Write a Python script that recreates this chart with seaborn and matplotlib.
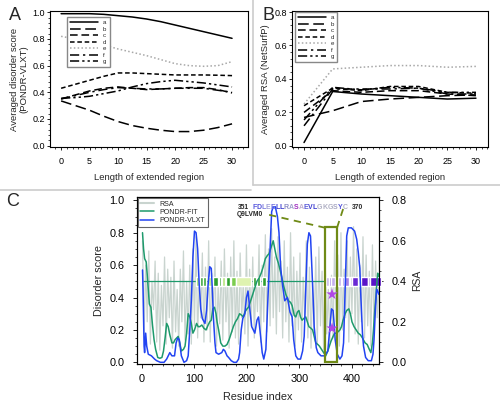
import matplotlib
matplotlib.use("Agg")
import matplotlib.pyplot as plt
import numpy as np
import pandas as pd
import seaborn as sns
from matplotlib.ticker import MultipleLocator, FormatStrFormatter
from matplotlib.lines import Line2D
from matplotlib.patches import Rectangle
from matplotlib.offsetbox import TextArea, HPacker, AnnotationBbox

# ---------------- data ----------------
series_names = ["a", "b", "c", "d", "e", "f", "g"]

# Panel A: averaged disorder score (PONDR-VLXT) vs length of extended region
ext_len_a = [0, 2.5, 5, 7.5, 10, 12.5, 15, 17.5, 20, 22.5, 25, 27.5, 30]
vlxt_a = [0.99, 0.99, 0.99, 0.985, 0.975, 0.965, 0.95, 0.93, 0.905, 0.88, 0.855, 0.83, 0.805]
vlxt_b = [0.335, 0.30, 0.265, 0.22, 0.18, 0.15, 0.13, 0.115, 0.105, 0.105, 0.115, 0.135, 0.163]
vlxt_c = [0.35, 0.38, 0.41, 0.43, 0.44, 0.43, 0.42, 0.425, 0.43, 0.435, 0.435, 0.42, 0.395]
vlxt_d = [0.43, 0.46, 0.49, 0.52, 0.545, 0.545, 0.54, 0.535, 0.53, 0.53, 0.53, 0.528, 0.525]
vlxt_e = [0.82, 0.80, 0.78, 0.755, 0.725, 0.70, 0.675, 0.645, 0.615, 0.60, 0.595, 0.60, 0.63]
vlxt_f = [0.35, 0.375, 0.40, 0.42, 0.435, 0.43, 0.425, 0.425, 0.43, 0.43, 0.43, 0.415, 0.40]
vlxt_g = [0.355, 0.36, 0.37, 0.39, 0.41, 0.44, 0.465, 0.48, 0.49, 0.48, 0.47, 0.455, 0.44]

# Panel B: averaged RSA (NetSurfP) vs length of extended region
ext_len_b = [0, 5, 10, 15, 20, 25, 30]
rsa_a = [0.02, 0.325, 0.31, 0.30, 0.29, 0.28, 0.285]
rsa_b = [0.17, 0.21, 0.265, 0.28, 0.29, 0.30, 0.305]
rsa_c = [0.20, 0.33, 0.32, 0.33, 0.33, 0.31, 0.30]
rsa_d = [0.24, 0.345, 0.33, 0.355, 0.355, 0.32, 0.315]
rsa_e = [0.25, 0.46, 0.47, 0.48, 0.48, 0.47, 0.475]
rsa_f = [0.12, 0.34, 0.34, 0.34, 0.345, 0.31, 0.31]
rsa_g = [0.155, 0.35, 0.335, 0.35, 0.345, 0.32, 0.32]

# Panel C: per-residue profiles of Q9LVM0
vlxt_res = [1, 2, 4, 5, 7, 9, 12, 18, 24, 28, 35, 42, 47, 50, 53, 57, 62, 65, 68, 71,
            75, 80, 85, 88, 91, 94, 97, 100, 103, 106, 109, 112, 115, 120, 123, 126, 129, 132, 134, 136,
            139, 141, 146, 152, 155, 158, 162, 165, 170, 175, 180, 184, 186, 189, 192, 196, 199, 202, 205, 209,
            215, 219, 222, 226, 229, 232, 236, 240, 244, 247, 250, 254, 258, 261, 264, 268, 272, 277, 282, 286,
            289, 293, 297, 302, 306, 309, 312, 315, 318, 321, 323, 326, 328, 332, 335, 341, 348, 354, 358, 361,
            364, 366, 368, 372, 377, 381, 384, 387, 390, 393, 399, 405, 409, 412, 415, 417, 420, 422, 426, 431,
            437, 440, 442, 445, 447, 449, 451]
vlxt_score = [0.57, 0.45, 0.10, 0.06, 0.18, 0.10, 0.05, 0.04, 0.02, 0.01, 0.0, 0.0, 0.02, 0.04, 0.06, 0.04, 0.04, 0.12, 0.15, 0.14,
              0.04, 0.0, 0.01, 0.04, 0.20, 0.38, 0.65, 0.81, 0.80, 0.70, 0.48, 0.33, 0.27, 0.24, 0.32, 0.48, 0.59, 0.58, 0.45, 0.28,
              0.12, 0.06, 0.05, 0.06, 0.08, 0.07, 0.04, 0.03, 0.01, 0.0, 0.0, 0.02, 0.06, 0.20, 0.27, 0.30, 0.40, 0.44, 0.34, 0.22,
              0.18, 0.26, 0.28, 0.16, 0.06, 0.02, 0.08, 0.40, 0.70, 0.93, 0.96, 0.96, 0.90, 0.80, 0.59, 0.47, 0.38, 0.40, 0.31, 0.28,
              0.14, 0.04, 0.02, 0.02, 0.07, 0.16, 0.45, 0.73, 0.80, 0.78, 0.63, 0.40, 0.22, 0.09, 0.06, 0.04, 0.04, 0.07, 0.22, 0.33,
              0.32, 0.24, 0.14, 0.05, 0.02, 0.04, 0.12, 0.45, 0.78, 0.83, 0.83, 0.81, 0.76, 0.68, 0.58, 0.40, 0.18, 0.10, 0.03, 0.01,
              0.01, 0.05, 0.14, 0.35, 0.45, 0.44, 0.42]

fit_res = [1, 3, 5, 8, 10, 12, 14, 17, 20, 23, 26, 30, 34, 38, 41, 44, 47, 50, 53, 57,
           60, 63, 66, 69, 72, 75, 79, 82, 85, 88, 91, 94, 97, 100, 104, 107, 110, 114, 118, 122,
           126, 129, 132, 135, 138, 141, 143, 146, 150, 154, 158, 162, 166, 170, 174, 178, 182, 186, 190, 193,
           196, 200, 203, 206, 209, 212, 215, 219, 223, 227, 231, 235, 239, 242, 246, 250, 253, 256, 260, 263,
           266, 270, 274, 279, 283, 286, 290, 293, 296, 299, 302, 305, 308, 312, 315, 318, 322, 325, 328, 331,
           335, 338, 342, 346, 350, 354, 357, 360, 364, 367, 370, 374, 377, 380, 383, 387, 390, 394, 397, 400,
           404, 408, 412, 416, 420, 425, 429, 433, 436, 439, 441, 443, 445, 447, 449, 451]
fit_score = [0.80, 0.70, 0.64, 0.62, 0.54, 0.45, 0.36, 0.34, 0.23, 0.14, 0.08, 0.03, 0.025, 0.03, 0.07, 0.15, 0.24, 0.22, 0.17, 0.12,
             0.12, 0.14, 0.15, 0.16, 0.12, 0.07, 0.08, 0.10, 0.18, 0.30, 0.28, 0.24, 0.18, 0.20, 0.24, 0.22, 0.22, 0.23, 0.21, 0.20,
             0.23, 0.25, 0.26, 0.33, 0.34, 0.30, 0.25, 0.20, 0.12, 0.10, 0.10, 0.11, 0.14, 0.18, 0.22, 0.25, 0.27, 0.30, 0.29, 0.28,
             0.31, 0.33, 0.34, 0.37, 0.40, 0.43, 0.46, 0.50, 0.52, 0.55, 0.59, 0.64, 0.66, 0.67, 0.71, 0.75, 0.70, 0.65, 0.61, 0.57,
             0.53, 0.47, 0.42, 0.38, 0.37, 0.35, 0.29, 0.28, 0.31, 0.32, 0.28, 0.26, 0.27, 0.28, 0.25, 0.22, 0.21, 0.20, 0.16, 0.12,
             0.11, 0.10, 0.08, 0.06, 0.04, 0.07, 0.10, 0.13, 0.16, 0.18, 0.18, 0.19, 0.20, 0.22, 0.26, 0.30, 0.32, 0.33, 0.30, 0.25,
             0.22, 0.20, 0.18, 0.17, 0.15, 0.12, 0.11, 0.08, 0.06, 0.12, 0.20, 0.30, 0.38, 0.47, 0.55, 0.53]

rsa_res = list(range(1, 452, 3))
rsa_value = [0.60, 0.14, 0.48, 0.20, 0.55, 0.09, 0.40, 0.26, 0.50, 0.10,
             0.44, 0.06, 0.38, 0.18, 0.52, 0.09, 0.46, 0.22, 0.42, 0.07,
             0.50, 0.15, 0.36, 0.08, 0.46, 0.20, 0.55, 0.11, 0.40, 0.14,
             0.48, 0.09, 0.56, 0.18, 0.62, 0.12, 0.42, 0.22, 0.54, 0.10,
             0.47, 0.16, 0.60, 0.10, 0.44, 0.25, 0.52, 0.08, 0.38, 0.19,
             0.50, 0.11, 0.56, 0.20, 0.44, 0.07, 0.52, 0.15, 0.60, 0.12,
             0.45, 0.09, 0.54, 0.22, 0.40, 0.14, 0.58, 0.08, 0.46, 0.18,
             0.52, 0.12, 0.42, 0.25, 0.58, 0.10, 0.48, 0.20, 0.63, 0.15,
             0.56, 0.18, 0.66, 0.22, 0.52, 0.14, 0.62, 0.25, 0.50, 0.12,
             0.60, 0.20, 0.47, 0.10, 0.64, 0.18, 0.52, 0.08, 0.45, 0.16,
             0.54, 0.10, 0.42, 0.22, 0.60, 0.12, 0.47, 0.07, 0.40, 0.15,
             0.52, 0.09, 0.57, 0.18, 0.45, 0.06, 0.49, 0.14, 0.36, 0.10,
             0.43, 0.12, 0.60, 0.20, 0.53, 0.08, 0.64, 0.16, 0.46, 0.22,
             0.60, 0.10, 0.52, 0.24, 0.67, 0.14, 0.56, 0.09, 0.48, 0.20,
             0.62, 0.12, 0.53, 0.18, 0.45, 0.08, 0.58, 0.15, 0.50, 0.22,
             0.40]

# sequence colour bar along disorder = 0.5
band_start = [103, 110, 117, 125, 136, 146, 152, 160, 170, 179, 211, 219, 228,
              350, 357, 361, 369, 373, 381, 385, 396, 401, 413, 417, 431, 435]
band_end = [108, 116, 121, 134, 144, 151, 159, 168, 179, 208, 217, 225, 236,
            356, 360, 368, 372, 380, 384, 395, 400, 412, 416, 430, 434, 455]
band_color = ['#9fdc6a', '#2e9e2e', '#3aa83a', '#c6ec90', '#2e9e2e', '#2e9e2e', '#b5e47a',
              '#2e9e2e', '#7ccd4e', '#dff3b0', '#2e9e2e', '#2e9e2e', '#2e9e2e',
              '#c4b0ec', '#8a5ee0', '#c4b0ec', '#8a5ee0', '#c4b0ec', '#8a5ee0', '#a682e6',
              '#c4b0ec', '#6a28d4', '#b49ae8', '#5a14c8', '#9a78e0', '#5a14c8']

seq_letters = list("FDLEELLRASAEVLGKGSYC")
seq_colors = ['#5a5ae0', '#5050d8', '#8080e0', '#a0a0d8', '#7070e0', '#4040d0', '#4040d0',
              '#9090c8', '#a0a0cc', '#a030c0', '#c0b0d0', '#5a5ad8', '#4040d0', '#4040d0',
              '#b0b0c4', '#b0b0c4', '#b0b0c4', '#a8a8c4', '#5050d8', '#b0b0c4']
box_start, box_end, box_top = 351, 370, 0.83
star_res = [362, 362]
star_score = [0.42, 0.21]

# ---------------- style ----------------
sns.set_theme(style="ticks")
plt.rcParams['font.family'] = ['Liberation Sans', 'DejaVu Sans']
plt.rcParams['axes.linewidth'] = 0.8
plt.rcParams['axes.edgecolor'] = 'black'
plt.rcParams['xtick.color'] = 'black'
plt.rcParams['ytick.color'] = 'black'

line_styles = {"a": "-", "b": (0, (7, 3)), "c": (0, (5, 2.5)), "d": (0, (3, 1.8)),
               "e": (0, (1, 1.5)), "f": (0, (6, 2.5, 1.5, 2.5)), "g": (0, (6, 2, 1.5, 2, 1.5, 2))}
line_colors = {n: ('#a8a8a8' if n == 'e' else 'black') for n in series_names}

fig = plt.figure(figsize=(5, 4.08), dpi=100)
axA = fig.add_axes([0.100, 0.640, 0.396, 0.333])
axB = fig.add_axes([0.584, 0.640, 0.392, 0.333])
axC = fig.add_axes([0.274, 0.108, 0.484, 0.409])
axR = axC.twinx()

panelA = {"a": vlxt_a, "b": vlxt_b, "c": vlxt_c, "d": vlxt_d, "e": vlxt_e, "f": vlxt_f, "g": vlxt_g}
panelB = {"a": rsa_a, "b": rsa_b, "c": rsa_c, "d": rsa_d, "e": rsa_e, "f": rsa_f, "g": rsa_g}

for ax, xs, vals in [(axA, ext_len_a, panelA), (axB, ext_len_b, panelB)]:
    for n in series_names:
        sns.lineplot(x=xs, y=vals[n], ax=ax, color=line_colors[n], linestyle=line_styles[n],
                     lw=1.1, legend=False)
    handles = [Line2D([], [], color=line_colors[n], linestyle=line_styles[n], lw=1.1) for n in series_names]
    ax.set_xlim(-1.95, 32.8) if ax is axA else ax.set_xlim(-2.1, 32.1)
    ax.xaxis.set_major_locator(MultipleLocator(5))
    ax.xaxis.set_minor_locator(MultipleLocator(1))
    ax.yaxis.set_major_locator(MultipleLocator(0.2))
    ax.yaxis.set_minor_locator(MultipleLocator(0.04))
    ax.yaxis.set_major_formatter(FormatStrFormatter('%.1f'))
    ax.tick_params(which='major', direction='out', length=2.5, width=0.6, labelsize=6.5)
    ax.tick_params(axis='y', which='major', pad=1)
    ax.tick_params(axis='x', which='major', pad=5)
    ax.tick_params(which='minor', direction='out', length=1.3, width=0.5)
    ax.set_xlabel("Length of extended region", fontsize=6.8, labelpad=5)
    leg = ax.legend(handles, series_names, loc='upper left',
                    bbox_to_anchor=(0.086, 0.956) if ax is axA else (0.015, 0.993),
                    borderaxespad=0, fontsize=4.4, handlelength=4.6, handletextpad=0.8,
                    labelspacing=0.2, borderpad=0.5, fancybox=False, framealpha=1)
    leg.get_frame().set_edgecolor('#888888')
    leg.get_frame().set_linewidth(1.0)

axA.set_ylim(-0.01, 1.01)
axB.set_ylim(-0.006, 0.806)
axA.set_ylabel("Averaged disorder score\n(PONDR-VLXT)", fontsize=6.8, labelpad=3, linespacing=1.1)
axB.set_ylabel("Averaged RSA (NetSurfP)", fontsize=6.8, labelpad=3)

# Panel C
axC.set_zorder(axR.get_zorder() + 1)
axC.patch.set_visible(False)
rsa_col = '#c9d4cf'
fit_col = '#1e9a6c'
vlxt_col = '#2244f2'
olive = '#6f8a16'

sns.lineplot(x=rsa_res, y=rsa_value, ax=axR, color=rsa_col, lw=0.9, legend=False)
axC.hlines(0.5, 1, 350, color=fit_col, lw=0.9, zorder=1)
axC.broken_barh([(s, e - s) for s, e in zip(band_start, band_end)], (0.472, 0.055),
                facecolors=band_color, zorder=2, clip_on=False)
sns.lineplot(x=fit_res, y=fit_score, ax=axC, color=fit_col, lw=1.1, legend=False, zorder=3)
sns.lineplot(x=vlxt_res, y=vlxt_score, ax=axC, color=vlxt_col, lw=1.1, legend=False, zorder=4)
axC.add_patch(Rectangle((box_start - 1.5, 0.003), box_end - box_start + 3, box_top,
                        fill=False, ec=olive, lw=1.6, zorder=5))
axC.plot([box_start - 1.5, 236], [box_top, 0.915], ls=(0, (4, 3)), color=olive, lw=1.3,
         clip_on=False, zorder=5)
axC.plot([box_end + 1.5, 384], [box_top, 0.955], ls=(0, (4, 3)), color=olive, lw=1.3,
         clip_on=False, zorder=5)
sns.scatterplot(x=star_res, y=star_score, ax=axC, marker='*', s=75, color='#b046e6',
                edgecolor='none', zorder=6, legend=False)

axC.text(183, 0.957, "351", fontsize=4.8, fontweight='bold', va='center', ha='left', zorder=7)
axC.text(400, 0.957, "370", fontsize=4.8, fontweight='bold', va='center', ha='left', zorder=7)
axC.text(181, 0.915, "Q9LVM0", fontsize=4.8, fontweight='bold', va='center', ha='left', zorder=7)
seq_box = HPacker(children=[TextArea(l, textprops=dict(color=c, fontsize=5, fontweight='bold'))
                            for l, c in zip(seq_letters, seq_colors)], sep=0, pad=0, align='center')
axC.add_artist(AnnotationBbox(seq_box, (210, 0.957), xycoords='data', box_alignment=(0, 0.5),
                              frameon=False, pad=0, annotation_clip=False, zorder=7))

axC.set_xlim(-9.5, 451.5)
axC.set_ylim(-0.01, 1.02)
axR.set_ylim(-0.008, 0.816)
axC.xaxis.set_major_locator(MultipleLocator(100))
axC.xaxis.set_minor_locator(MultipleLocator(20))
axC.yaxis.set_major_locator(MultipleLocator(0.2))
axC.yaxis.set_minor_locator(MultipleLocator(0.05))
axR.yaxis.set_major_locator(MultipleLocator(0.2))
axR.yaxis.set_minor_locator(MultipleLocator(0.05))
axC.yaxis.set_major_formatter(FormatStrFormatter('%.1f'))
axR.yaxis.set_major_formatter(FormatStrFormatter('%.1f'))
for ax in (axC, axR):
    ax.tick_params(which='major', direction='out', length=3, width=0.6, labelsize=7.8)
    ax.tick_params(which='minor', direction='out', length=1.5, width=0.5)
axC.tick_params(axis='y', which='major', pad=6)
axR.tick_params(axis='y', which='major', pad=6)
axC.tick_params(axis='x', which='major', pad=4)
axC.set_xlabel("Residue index", fontsize=7.8, labelpad=6)
axC.set_ylabel("Disorder score", fontsize=7.8, labelpad=4)
axR.set_ylabel("RSA", fontsize=7.5, labelpad=4)
axR.grid(False)
axC.grid(False)

legC_handles = [Line2D([], [], color=rsa_col, lw=1.5), Line2D([], [], color=fit_col, lw=1.1),
                Line2D([], [], color=vlxt_col, lw=1.1)]
legC = axC.legend(legC_handles, ["RSA", "PONDR-FIT", "PONDR-VLXT"], loc='upper left',
                  bbox_to_anchor=(0.0, 1.0), borderaxespad=0.1, fontsize=5, handlelength=2.0,
                  handletextpad=0.7, labelspacing=0.2, borderpad=0.4, fancybox=False, framealpha=1)
legC.get_frame().set_edgecolor('#666666')
legC.get_frame().set_linewidth(0.8)

# panel letters and separators
fig.text(14.5 / 500, 1 - 16 / 408, "A", fontsize=13, ha='center', va='center')
fig.text(268.5 / 500, 1 - 16 / 408, "B", fontsize=13, ha='center', va='center')
fig.text(13 / 500, 1 - 202 / 408, "C", fontsize=13, ha='center', va='center')
sep_col = '#cccccc'
fig.add_artist(Line2D([0, 251 / 500], [1 - 190 / 408, 1 - 190 / 408], color=sep_col, lw=1.2))
fig.add_artist(Line2D([253 / 500, 1], [1 - 185 / 408, 1 - 185 / 408], color=sep_col, lw=1.2))
fig.add_artist(Line2D([253 / 500, 253 / 500], [1, 1 - 185 / 408], color=sep_col, lw=1.2))

fig.savefig("out.png", dpi=100)
